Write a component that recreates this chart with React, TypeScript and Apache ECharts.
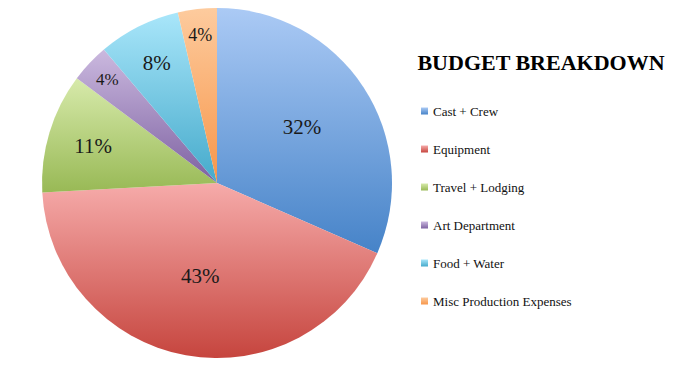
import React, { useEffect, useRef } from "react";
import * as echarts from "echarts";

const categories = [
  "Cast + Crew",
  "Equipment",
  "Travel + Lodging",
  "Art Department",
  "Food + Water",
  "Misc Production Expenses",
];
const values = [31.6, 42.6, 11.1, 3.6, 7.6, 3.6];
const topColors = ["#abcaf5", "#f6abaa", "#d7eaab", "#cbb9df", "#a9e6fa", "#fdcb9e"];
const bottomColors = ["#4683c8", "#c6453e", "#98b955", "#7d61a1", "#45aacb", "#f7964a"];
const labelFrac = [0.58, 0.54, 0.74, 0.86, 0.77, 0.85];
const labelSize = [21, 21, 21, 17, 21, 18];
const titleText = "BUDGET BREAKDOWN";

const CX = 217;
const CY = 183;
const R = 175;

export default function App() {
  const ref = useRef<HTMLDivElement>(null);
  useEffect(() => {
    if (!ref.current) return;
    const chart = echarts.init(ref.current, null, { renderer: "svg" });
    const total = values.reduce((a, b) => a + b, 0);
    const cum: number[] = [];
    let acc = 0;
    values.forEach((v) => {
      cum.push(acc);
      acc += v;
    });
    const data = categories.map((name, i) => ({
      name,
      value: values[i],
      itemStyle: {
        color: new echarts.graphic.LinearGradient(0, 0, 0, 1, [
          { offset: 0, color: topColors[i] },
          { offset: 1, color: bottomColors[i] },
        ]),
      },
      label: { fontSize: labelSize[i] },
    }));
    chart.setOption({
      animation: false,
      backgroundColor: "#ffffff",
      graphic: [
        {
          type: "text",
          x: 541,
          y: 62,
          style: {
            text: titleText,
            fontFamily: "Liberation Serif",
            fontWeight: "bold",
            fontSize: 22,
            fill: "#000000",
            align: "center",
            verticalAlign: "middle",
          },
        },
      ],
      legend: {
        orient: "vertical",
        left: 421,
        top: 104,
        padding: 0,
        itemWidth: 7,
        itemHeight: 7,
        itemGap: 24,
        icon: "rect",
        textStyle: {
          fontFamily: "Liberation Serif",
          fontSize: 13,
          lineHeight: 14,
          color: "#111111",
        },
        data: categories,
      },
      series: [
        {
          type: "pie",
          center: [CX, CY],
          radius: [0, R],
          startAngle: 90,
          clockwise: true,
          data,
          itemStyle: { borderWidth: 0 },
          emphasis: { disabled: true },
          label: {
            show: true,
            position: "inside",
            fontFamily: "Liberation Serif",
            color: "#1a1a1a",
            formatter: (p: any) => Math.round(p.value) + "%",
          },
          labelLine: { show: false },
          labelLayout: (params: any) => {
            const i = params.dataIndex;
            const mid = ((cum[i] + values[i] / 2) / total) * Math.PI * 2;
            const r = R * labelFrac[i];
            return {
              x: CX + r * Math.sin(mid),
              y: CY - r * Math.cos(mid),
              align: "center",
              verticalAlign: "middle",
            };
          },
        },
      ],
    });
    return () => chart.dispose();
  }, []);
  return (
    <div
      ref={ref}
      style={{ position: "absolute", left: 0, top: 0, width: 700, height: 370 }}
    />
  );
}
